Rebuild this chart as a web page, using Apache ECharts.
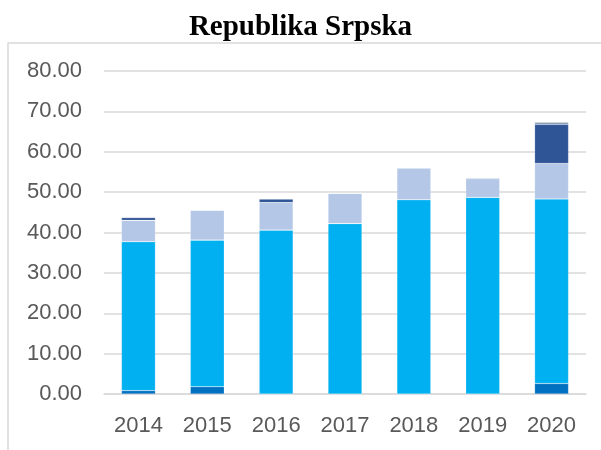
<!DOCTYPE html>
<html>
<head>
<meta charset="utf-8">
<script src="https://cdn.jsdelivr.net/npm/echarts@6/dist/echarts.min.js"></script>
<style>
  html, body { margin: 0; padding: 0; background: #fff; }
  #chart { width: 601px; height: 450px; }
</style>
</head>
<body>
<div id="chart"></div>
<script>
// kategorije (godine)
var years = ['2014', '2015', '2016', '2017', '2018', '2019', '2020'];
var yTicks = [0, 10, 20, 30, 40, 50, 60, 70, 80];

// vrijednosti po segmentima, odozdo prema gore
var seriesDark = [0.85, 1.8, 0, 0, 0, 0, 2.6];
var seriesCyan = [36.85, 36.3, 40.6, 42.2, 48.1, 48.7, 45.7];
var seriesPale = [5.3, 7.4, 6.8, 7.5, 7.9, 4.6, 8.8];
var seriesNavy = [0.7, 0, 0.9, 0, 0, 0.2, 9.7];
var seriesGrey = [0, 0, 0, 0, 0, 0, 0.5];

var colors = ['#0070C0', '#00B0F0', '#B4C7E7', '#2F5597', '#8497B0'];

var myChart = echarts.init(document.getElementById('chart'));

function bar(name, data) {
    return {
        name: name,
        type: 'bar',
        stack: 'Total',
        barWidth: 34,
        itemStyle: {
            borderColor: 'rgba(255,255,255,0.3)',
            borderWidth: 0.6
        },
        data: data
    };
}

var option = {
    animation: false,
    color: colors,
    title: {
        text: 'Republika Srpska',
        left: 'center',
        top: 8,
        textStyle: {
            fontFamily: 'Liberation Serif',
            fontWeight: 'bold',
            fontSize: 29,
            color: '#000'
        }
    },
    graphic: [
        {
            type: 'rect',
            shape: { x: 8, y: 43, width: 620, height: 450 },
            style: { fill: 'none', stroke: '#d9d9d9', lineWidth: 1.5 },
            silent: true
        }
    ],
    grid: {
        left: 104,
        right: 15,
        top: 71,
        bottom: 56
    },
    xAxis: {
        type: 'category',
        data: years,
        axisTick: { show: false },
        axisLine: { lineStyle: { color: '#d9d9d9', width: 1.5 } },
        axisLabel: {
            color: '#595959',
            fontFamily: 'Liberation Sans',
            fontSize: 22,
            margin: 21
        }
    },
    yAxis: {
        type: 'value',
        min: yTicks[0],
        max: yTicks[yTicks.length - 1],
        interval: 10,
        axisLine: { show: false },
        axisTick: { show: false },
        splitLine: { lineStyle: { color: '#d9d9d9', width: 1.5 } },
        axisLabel: {
            color: '#595959',
            fontFamily: 'Liberation Sans',
            fontSize: 22,
            margin: 22,
            formatter: function (v) { return v.toFixed(2); }
        }
    },
    series: [
        bar('S1', seriesDark),
        bar('S2', seriesCyan),
        bar('S3', seriesPale),
        bar('S4', seriesNavy),
        bar('S5', seriesGrey)
    ]
};

myChart.setOption(option);
</script>
</body>
</html>
